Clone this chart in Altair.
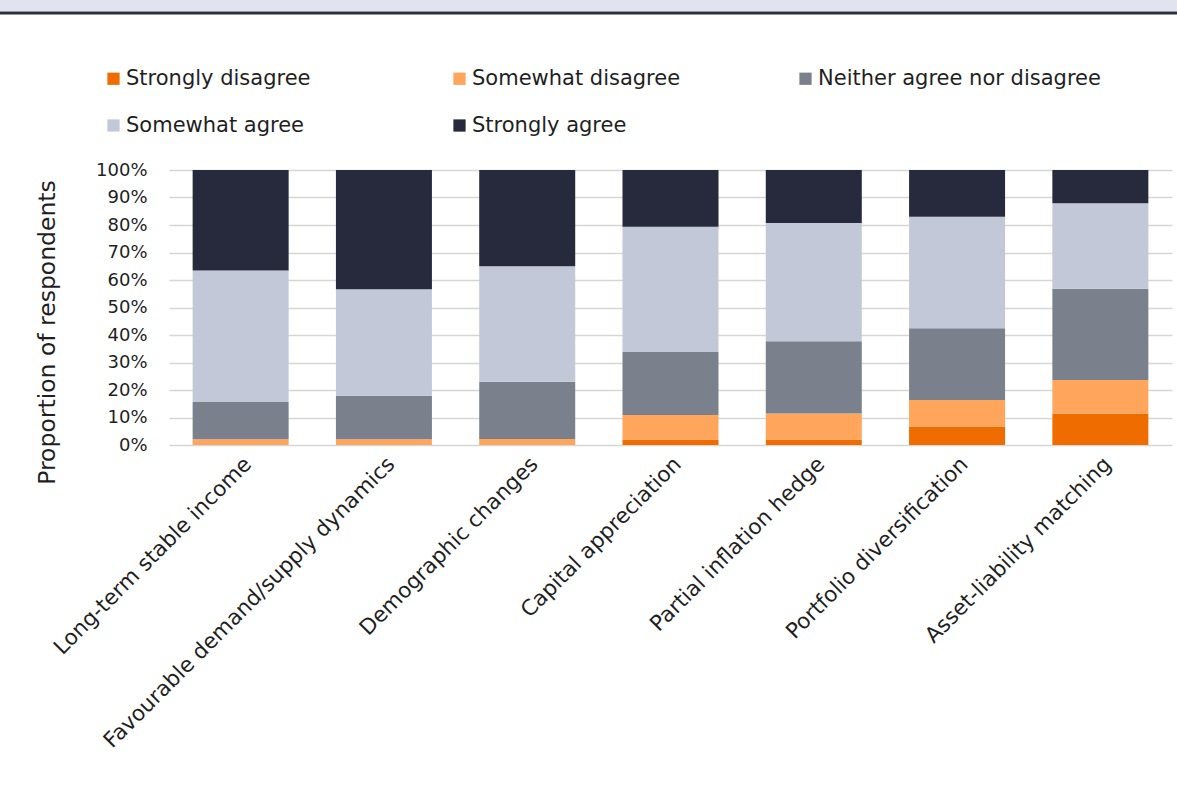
import altair as alt
import pandas as pd

categories = [
    "Long-term stable income",
    "Favourable demand/supply dynamics",
    "Demographic changes",
    "Capital appreciation",
    "Partial inflation hedge",
    "Portfolio diversification",
    "Asset-liability matching",
]
series = [
    "Strongly disagree",
    "Somewhat disagree",
    "Neither agree nor disagree",
    "Somewhat agree",
    "Strongly agree",
]
colors = ["#ef6c00", "#ffa55c", "#7b818c", "#c3c8d9", "#262a3c"]

strongly_disagree = [0.0, 0.0, 0.0, 2.0, 2.0, 6.7, 11.5]
somewhat_disagree = [2.1, 2.1, 2.2, 8.9, 9.5, 9.7, 12.1]
neither = [13.5, 15.8, 20.8, 22.9, 26.2, 26.1, 33.2]
somewhat_agree = [47.9, 38.7, 42.0, 45.6, 43.0, 40.5, 31.1]
strongly_agree = [36.5, 43.4, 35.0, 20.6, 19.3, 17.0, 12.1]

y_ticks = [0, 0.1, 0.2, 0.3, 0.4, 0.5, 0.6, 0.7, 0.8, 0.9, 1.0]

values = [strongly_disagree, somewhat_disagree, neither, somewhat_agree, strongly_agree]
rows = []
for si, (s, vals) in enumerate(zip(series, values)):
    for c, v in zip(categories, vals):
        rows.append({"category": c, "series": s, "order": si, "value": v / 100.0})
df = pd.DataFrame(rows)

FONT = "DejaVu Sans"
TEXT = "#1f1f1f"

bars = alt.Chart(df).mark_bar().encode(
    x=alt.X(
        "category:N",
        sort=categories,
        title=None,
        scale=alt.Scale(paddingInner=0.33, paddingOuter=0.165),
        axis=alt.Axis(
            labelAngle=315,
            labelFontSize=21.5,
            labelFont=FONT,
            labelColor=TEXT,
            labelPadding=8,
            domain=False,
            ticks=False,
            labelLimit=800,
        ),
    ),
    y=alt.Y(
        "value:Q",
        stack="zero",
        scale=alt.Scale(domain=[0, 1], nice=False),
        axis=alt.Axis(
            values=y_ticks,
            format=".0%",
            title="Proportion of respondents",
            titleFont=FONT,
            titleFontSize=23.5,
            titleFontWeight="normal",
            titleColor=TEXT,
            titleX=-122,
            titleY=162,
            titleAngle=270,
            titleAlign="center",
            titleBaseline="middle",
            labelFont=FONT,
            labelFontSize=18,
            labelColor=TEXT,
            labelPadding=22,
            domain=False,
            ticks=False,
            grid=True,
            gridColor="#d6d6d6",
            gridWidth=1.5,
        ),
    ),
    color=alt.Color(
        "series:N",
        scale=alt.Scale(domain=series, range=colors),
        legend=alt.Legend(
            title=None,
            orient="none",
            legendX=-66,
            legendY=-102,
            direction="horizontal",
            columns=3,
            gridAlign="all",
            columnPadding=40,
            rowPadding=25,
            symbolType="square",
            symbolSize=150,
            symbolStrokeWidth=0,
            labelFont=FONT,
            labelFontSize=21,
            labelColor=TEXT,
            labelOffset=2,
            labelLimit=500,
        ),
    ),
    order=alt.Order("order:Q", sort="ascending"),
)

deco = pd.DataFrame({"a": [0]})
band = alt.Chart(deco).mark_rect(color="#e1e4ee").encode(
    x=alt.value(-169), x2=alt.value(1008), y=alt.value(-170), y2=alt.value(-159)
)
line = alt.Chart(deco).mark_rule(color="#2a3040", strokeWidth=3).encode(
    x=alt.value(-169), x2=alt.value(1008), y=alt.value(-157)
)

chart = alt.layer(band, line, bars).properties(
    width=1003,
    height=275,
    autosize=alt.AutoSizeParams(type="none"),
    padding={"left": 169, "top": 170, "right": 5, "bottom": 358},
    background="white",
).configure_view(stroke=None)

chart.save("out.html", embed_options={"renderer": "svg", "actions": False})
